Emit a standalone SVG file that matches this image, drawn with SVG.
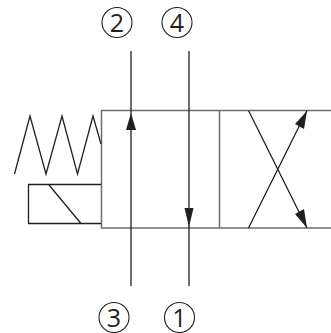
<svg xmlns="http://www.w3.org/2000/svg" width="331" height="333" viewBox="0 0 331 333">
<style>
.box{fill:none;stroke:#6e6e6e;stroke-width:1.5}
.ln{fill:none;stroke:#231f20;stroke-width:1.3}
.head{fill:#231f20;stroke:none}
.port circle{fill:none;stroke:#231f20;stroke-width:1.1}
.port text{font-family:"Open Sans",sans-serif;font-size:25px;fill:#231f20;text-anchor:middle}
</style>
<g id="valve-body">
<path class="box" d="M331 110.500H101.500V228H331M219.500 110.500V228"/>
</g>
<g id="spring"><path class="ln" d="M14.500 174L30 116L46 174L62 116L77.500 174L93 116L101 144"/></g>
<g id="solenoid">
<path class="ln" d="M101 184.500H28.500V223.500H101M49 185L81 223.500"/>
</g>
<g id="connectors">
<path class="ln" d="M131 51V286M189 51V286M248.500 110.500L307 228M248.500 228L307 110.500"/>
<path class="head" d="M131 113L136 130H126Z"/>
<path class="head" d="M189 227L184.500 208H193.500Z"/>
<path class="head" d="M307 111L304 129L295 124Z"/>
<path class="head" d="M307 228L295 214L304 209Z"/>
</g>
<g id="port-2" class="port"><circle cx="117" cy="22.500" r="15"/><text x="117" y="31.500">2</text></g>
<g id="port-4" class="port"><circle cx="177" cy="22.500" r="15"/><text x="177" y="31.500">4</text></g>
<g id="port-3" class="port"><circle cx="114" cy="317.500" r="15"/><text x="114" y="326.500">3</text></g>
<g id="port-1" class="port"><circle cx="179.500" cy="317.500" r="15"/><text x="179.500" y="326.500">1</text></g>
</svg>
